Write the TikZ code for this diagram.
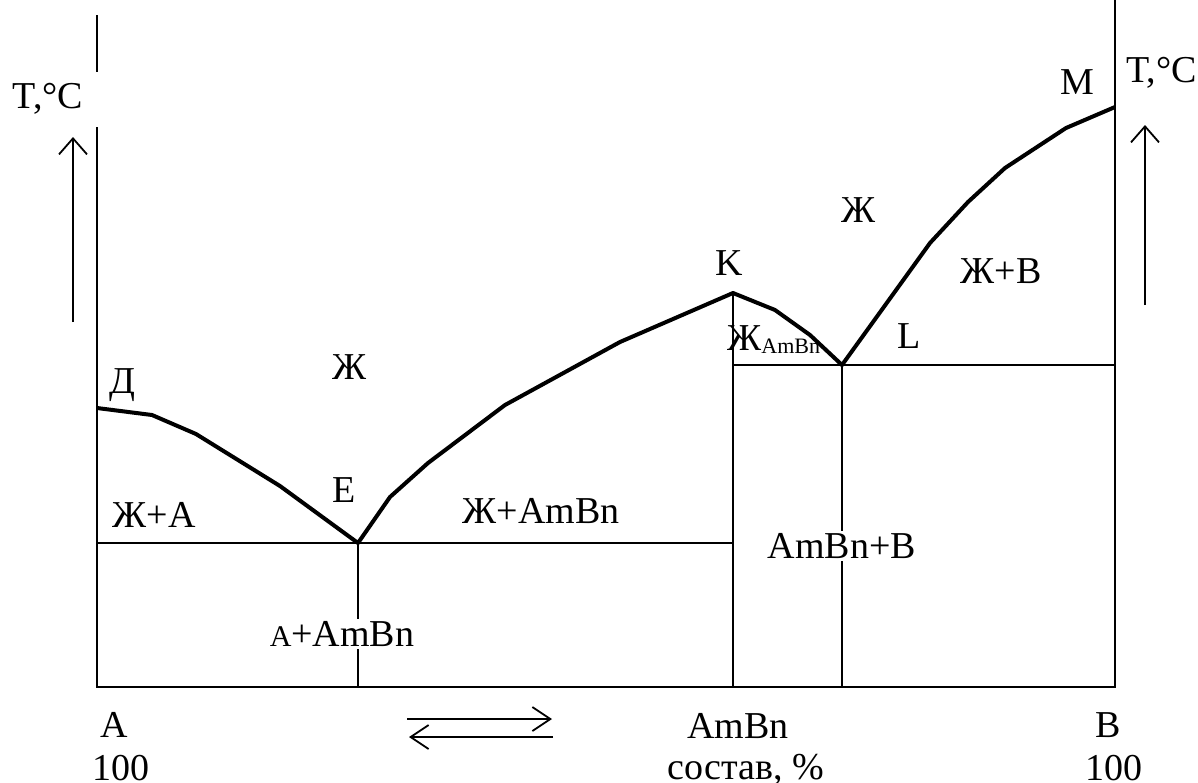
\documentclass[tikz,border=0pt]{standalone}
\usepackage{fontspec}
\setmainfont{Liberation Serif}
\usetikzlibrary{arrows.meta}

\begin{document}
\begin{tikzpicture}[x=0.5pt, y=-0.5pt,
    lbl/.style = {inner sep=1pt, font=\fontsize{19}{22}\selectfont},
    cut/.style = {lbl, fill=white},
    curve/.style = {line width=2pt, line join=round},
    thin/.style = {line width=0.9pt}]
  \useasboundingbox (0,0) rectangle (1198,782);

  % points of the diagram
  \coordinate (D) at (97,408);
  \coordinate (E) at (358,543);
  \coordinate (K) at (733,293);
  \coordinate (L) at (842,365);
  \coordinate (M) at (1115,107);
  \coordinate (A0) at (97,687);
  \coordinate (B0) at (1115,687);
  \coordinate (E0) at (358,687);
  \coordinate (K0) at (733,687);
  \coordinate (L0) at (842,687);
  \coordinate (Etie) at (733,543);
  \coordinate (Ltie) at (1115,365);

  % axes
  \draw[thin] (97,15) -- (97,72);
  \draw[thin] (97,127) -- (A0) -- (B0) -- (1115,0);
  \draw[thin] (D) -- (A0);

  % horizontal and vertical lines
  \draw[thin] (D |- E) -- (Etie);
  \draw[thin] (K) -- (K0);
  \draw[thin] (K |- L) -- (Ltie);
  \draw[thin] (E) -- (E0);
  \draw[thin] (L) -- (L0);

  % liquidus
  \draw[curve] (D) -- (152,415) -- (196,434) -- (280,486) -- (E)
    -- (390,497) -- (428,463) -- (505,405) -- (620,342) -- (K)
    -- (775,310) -- (810,335) -- (L)
    -- (930,243) -- (968,202) -- (1005,168) -- (1066,128) -- (M);

  % temperature arrows
  \coordinate (tl0) at (73,322);
  \coordinate (tl1) at (73,137);
  \coordinate (tr0) at (1145,305);
  \coordinate (tr1) at (1145,125);
  \draw[thin, -{Straight Barb[length=8pt, width=14pt]}] (tl0) -- (tl1);
  \draw[thin, -{Straight Barb[length=8pt, width=14pt]}] (tr0) -- (tr1);

  % composition arrows
  \coordinate (c0) at (407,719);
  \coordinate (c1) at (552,719);
  \coordinate (c2) at (409,737);
  \coordinate (c3) at (553,737);
  \draw[thin, -{Straight Barb[length=9pt, width=12pt]}] (c0) -- (c1);
  \draw[thin, -{Straight Barb[length=9pt, width=12pt]}] (c3) -- (c2);

  % labels
  \node[lbl] (tA) at (48,99) {T,°C};
  \node[lbl, anchor=base west] (tB) at (1124,82) {T,°C};
  \node[lbl] (lD) at (122,385) {Д};
  \node[lbl] (lE) at (344,490) {E};
  \node[lbl] (lK) at (729,263) {K};
  \node[lbl] (lL) at (909,336) {L};
  \node[lbl] (lM) at (1077,82) {M};
  \node[lbl] (liq1) at (350,367) {Ж};
  \node[lbl] (liq2) at (859,210) {Ж};
  \node[lbl] (fA) at (154,515) {Ж+А};
  \node[lbl] (fAB) at (541,511) {Ж+AmBn};
  \node[lbl] (fB) at (1001,271) {Ж+B};
  \node[lbl, anchor=base west, inner sep=0pt] (fK) at (727,350)
    {Ж\raisebox{-0.2ex}{\fontsize{11}{13}\selectfont AmBn}};
  \node[cut] (sE) at (342,634) {{\fontsize{15}{18}\selectfont А}+AmBn};
  \node[cut] (sL) at (842,546) {AmBn+B};

  % composition axis
  \node[lbl] (xA) at (114,725) {A};
  \node[lbl, anchor=base] (nA) at (121,780) {100};
  \node[lbl] (xK) at (738,726) {AmBn};
  \node[lbl, anchor=base] (nK) at (746,779) {состав, \%};
  \node[lbl] (xB) at (1108,725) {B};
  \node[lbl, anchor=base] (nB) at (1114,780) {100};
\end{tikzpicture}
\end{document}
